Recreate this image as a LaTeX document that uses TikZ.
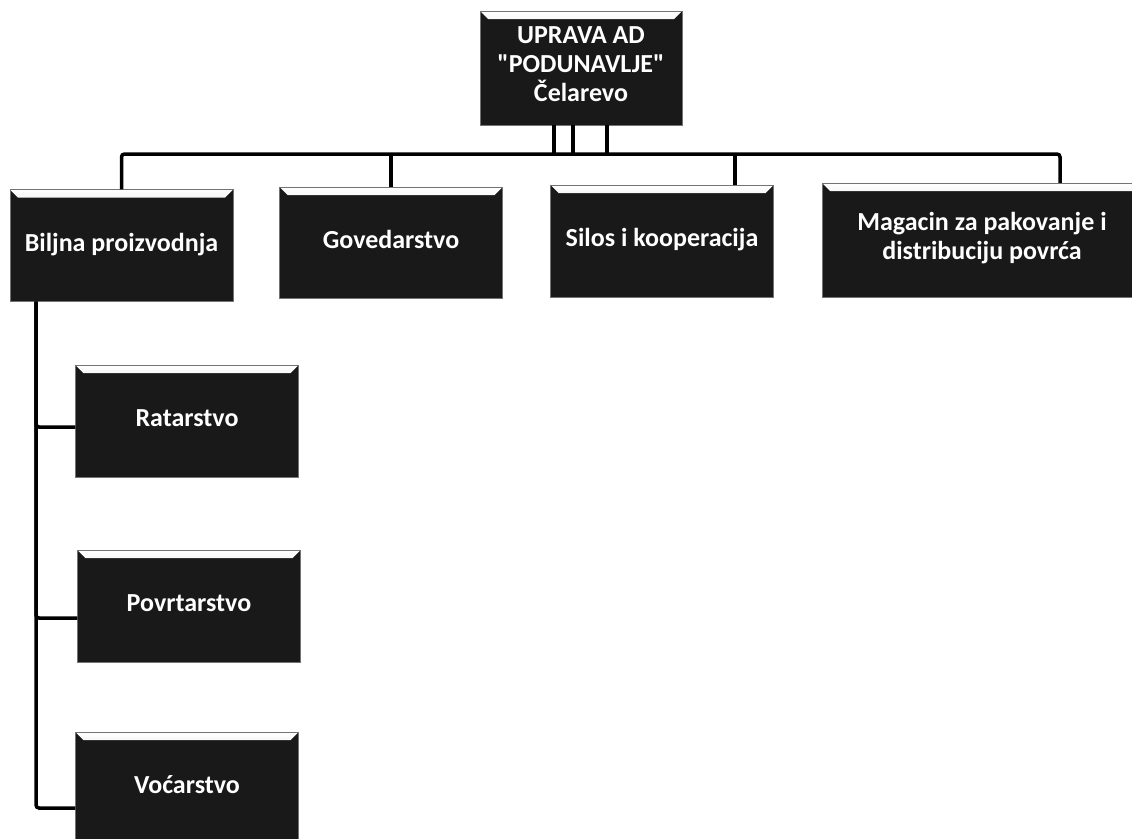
\documentclass[tikz,border=0pt]{standalone}
\usepackage{fontspec}
\setmainfont{Carlito}
\definecolor{boxcolor}{rgb}{0.1,0.1,0.1}
\usetikzlibrary{positioning}
\tikzset{
	unit/.style={
		rectangle,
		fill=boxcolor,
		draw=black!55,
		thin,
		text=white,
		font=\fontsize{26}{29}\selectfont\bfseries,
		align=center,
		execute at begin node=\strut,
		minimum width=223pt,
		minimum height=112pt,
		inner sep=0pt,
		path picture={
			\shade[top color=white,bottom color=black!45]
			(path picture bounding box.north west) --
			(path picture bounding box.north east) --
			([shift={(-8pt,-8pt)}]path picture bounding box.north east) --
			([shift={(8pt,-8pt)}]path picture bounding box.north west) -- cycle;
		}
	},
	link/.style={
		draw=black,
		line width=3.5pt,
		rounded corners=3pt
	},
}

\begin{document}
\begin{tikzpicture}[x=1pt,y=1pt]
\useasboundingbox (0,0) rectangle (1132,-838);
\node[unit,minimum width=202pt,minimum height=114pt] (uprava) at (581,-68)
	{UPRAVA AD\\\textquotedbl PODUNAVLJE\textquotedbl\\Čelarevo};
\node[unit] (biljna) at (121.5,-245.5) {Biljna proizvodnja};
\node[unit,minimum height=111pt] (goved) at (391,-242.5) {Govedarstvo};
\node[unit] (silos) at (662,-241) {Silos i kooperacija};
\node[unit,minimum width=320pt,minimum height=114pt] (magacin) at (982,-240)
	{Magacin za pakovanje i\\distribuciju povrća};
\node[unit] (ratar) at (187,-421) {Ratarstvo};
\node[unit] (povrt) at (189,-606) {Povrtarstvo};
\node[unit] (vocar) at (187,-788) {Voćarstvo};
% horizontal bar under the top box
\coordinate (bar) at (0,-154);
\coordinate (mdrop) at ([xshift=78pt]magacin.north);
\coordinate (sdrop) at ([xshift=73pt]silos.north);
\coordinate (bus) at ([xshift=-85.5pt]biljna.south);
\draw[link] ([xshift=-27pt]uprava.south) -- ([xshift=-27pt]uprava.south |- bar);
\draw[link] ([xshift=-8pt]uprava.south) -- ([xshift=-8pt]uprava.south |- bar);
\draw[link] ([xshift=26pt]uprava.south) -- ([xshift=26pt]uprava.south |- bar);
\draw[link] (biljna.north) |- (bar -| mdrop) -- (mdrop);
\draw[link] (goved.north) -- (goved.north |- bar);
\draw[link] (sdrop) -- (sdrop |- bar);
% left bus to the sub units
\draw[link] (bus) |- ([yshift=-20pt]vocar.west);
\draw[link] (bus) |- ([yshift=-12pt]povrt.west);
\draw[link] (bus) |- ([yshift=-6pt]ratar.west);
\end{tikzpicture}
\end{document}
